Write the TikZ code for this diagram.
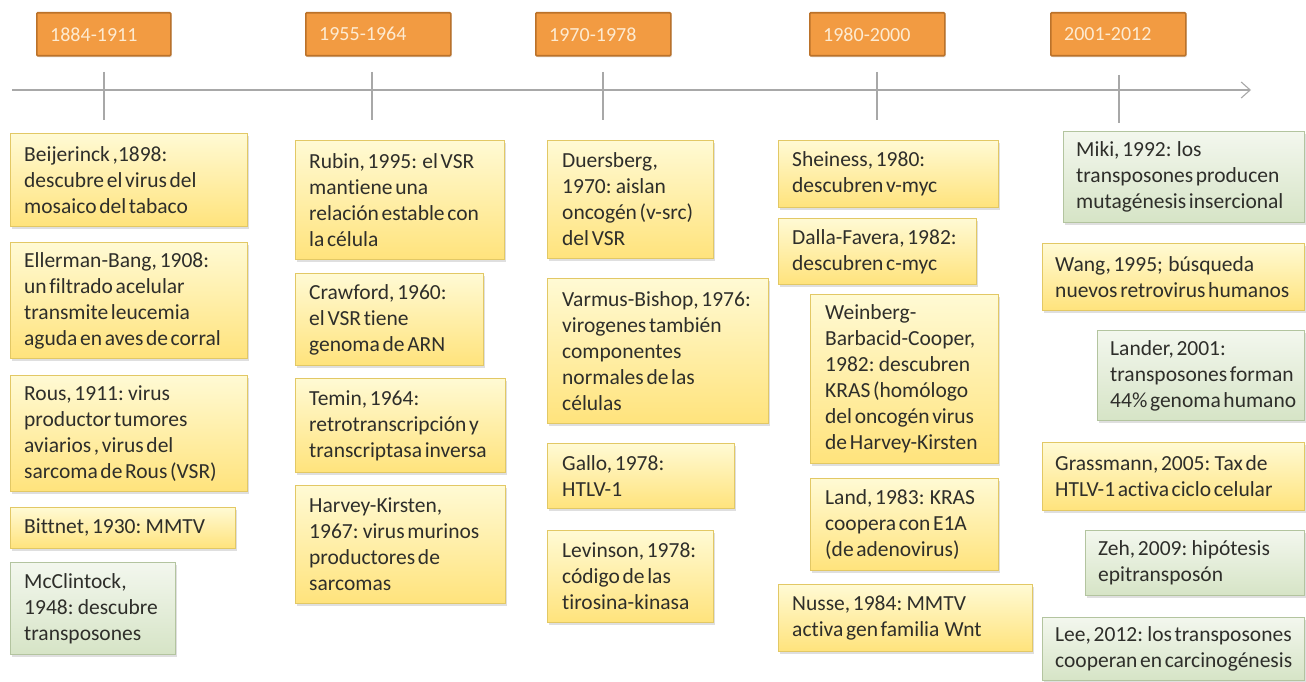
\documentclass[tikz,border=0pt]{standalone}
\usepackage{fontspec}
\setmainfont[WordSpace=0.55, Ligatures={NoCommon}]{Carlito}
\usetikzlibrary{shadows,arrows.meta}
\definecolor{ytop}{HTML}{FFFAD4}
\definecolor{ybot}{HTML}{FFE37C}
\definecolor{ybord}{HTML}{E2C865}
\definecolor{gtop}{HTML}{F3F7EE}
\definecolor{gbot}{HTML}{D6E4C6}
\definecolor{gbord}{HTML}{B3C49F}
\definecolor{hfill}{HTML}{F29B42}
\definecolor{hbord}{HTML}{BB722A}
\definecolor{htxtc}{HTML}{FDEBD2}
\definecolor{txtc}{HTML}{2E2E2A}
\definecolor{tlgray}{HTML}{A8A8A8}
\tikzset{
  tl/.style={draw=tlgray, line width=1.1pt},
  hdr/.style={draw=hbord, line width=1.6pt, fill=hfill, rounded corners=1pt,
    drop shadow={shadow xshift=1pt, shadow yshift=-1.5pt, opacity=0.2}},
  ybox/.style={draw=ybord, line width=0.8pt, top color=ytop, bottom color=ybot,
    drop shadow={shadow xshift=1.5pt, shadow yshift=-2.5pt, opacity=0.25}},
  gbox/.style={draw=gbord, line width=0.8pt, top color=gtop, bottom color=gbot,
    drop shadow={shadow xshift=1.5pt, shadow yshift=-2.5pt, opacity=0.25}},
  txt/.style={inner sep=0pt, align=left, text=txtc, font=\fontsize{21.5pt}{26pt}\selectfont},
  htxt/.style={inner sep=0pt, text=htxtc, font=\fontsize{20pt}{24pt}\selectfont},
}
\newcommand\evbox[8]{%
  \node[#2, minimum width=#5pt, minimum height=#6pt, anchor=north west, inner sep=0pt] (#1) at (#3,#4) {};
  \node[txt, anchor=west] (#1t) at ([xshift=#7pt]#1.west) {#8};}
\newcommand\hdrbox[6]{%
  \node[hdr, minimum width=#4pt, minimum height=#5pt, anchor=north west, inner sep=0pt] (#1) at (#2,#3) {};
  \node[htxt, anchor=west] (#1t) at ([xshift=14pt]#1.west) {#6};}
\begin{document}
\begin{tikzpicture}[x=1pt, y=-1pt]
\useasboundingbox[fill=white] (0,0) rectangle (1306,682);

% headers
\hdrbox{h1}{36}{12}{134}{43}{1884-1911}
\hdrbox{h2}{305}{12}{145}{43}{1955-1964}
\hdrbox{h3}{535}{12}{135}{43}{1970-1978}
\hdrbox{h4}{809}{12}{135}{43}{1980-2000}
\hdrbox{h5}{1050}{12}{135}{43}{2001-2012}

% timeline
\coordinate (tlS) at (12,90);
\coordinate (tlE) at (1251,90);
\draw[tl, -{Straight Barb[length=9pt, width=16pt, line width=1.1pt]}] (tlS) -- (tlE);
\coordinate (k1a) at (104,72);  \coordinate (k1b) at (104,120);
\coordinate (k2a) at (372,72);  \coordinate (k2b) at (372,120);
\coordinate (k3a) at (603,72);  \coordinate (k3b) at (603,120);
\coordinate (k4a) at (877,72);  \coordinate (k4b) at (877,120);
\coordinate (k5a) at (1119,75); \coordinate (k5b) at (1119,123);
\foreach \k in {1,...,5} {\draw[tl] (k\k a) -- (k\k b);}

% column 1
\evbox{beij}{ybox}{10}{133}{237}{93}{14}{Beijerinck ,1898:\\descubre el virus del\\mosaico del tabaco}
\evbox{eller}{ybox}{10}{242}{237}{116}{14}{Ellerman-Bang, 1908:\\un filtrado acelular\\transmite leucemia\\aguda en aves de corral}
\evbox{rous}{ybox}{10}{375}{237}{116}{14}{Rous, 1911: virus\\productor tumores\\aviarios , virus del\\sarcoma de Rous (VSR)}
\evbox{bitt}{ybox}{10}{507}{225}{41}{14}{Bittnet, 1930: MMTV}
\evbox{mccl}{gbox}{10}{562}{165}{92}{14}{McClintock,\\1948: descubre\\transposones}

% column 2
\evbox{rubin}{ybox}{295}{140}{209}{119}{14}{Rubin, 1995:\ \ el VSR\\mantiene una\\relación estable con\\la célula}
\evbox{craw}{ybox}{295}{273}{188}{92}{14}{Crawford, 1960:\\el VSR tiene\\genoma de ARN}
\evbox{temin}{ybox}{295}{378}{210}{94}{14}{Temin, 1964:\\retrotranscripción y\\transcriptasa inversa}
\evbox{harvey}{ybox}{295}{485}{210}{118}{14}{Harvey-Kirsten,\\1967: virus murinos\\productores de\\sarcomas}

% column 3
\evbox{duers}{ybox}{547}{140}{166}{118}{15}{Duersberg,\\1970: aislan\\oncogén (v-src)\\del VSR}
\evbox{varmus}{ybox}{547}{278}{221}{145}{15}{Varmus-Bishop, 1976:\\virogenes también\\componentes\\normales de las\\células}
\evbox{gallo}{ybox}{547}{443}{187}{65}{15}{Gallo, 1978:\\HTLV-1}
\evbox{levin}{ybox}{547}{530}{166}{92}{15}{Levinson, 1978:\\código de las\\tirosina-kinasa}

% column 4
\evbox{shein}{ybox}{778}{140}{220}{67}{14}{Sheiness, 1980:\\descubren v-myc}
\evbox{dalla}{ybox}{778}{218}{198}{66}{14}{Dalla-Favera, 1982:\\descubren c-myc}
\evbox{weinb}{ybox}{810}{294}{188}{169}{15}{Weinberg-\\Barbacid-Cooper,\\1982: descubren\\KRAS (homólogo\\del oncogén virus\\de Harvey-Kirsten}
\evbox{land}{ybox}{810}{478}{188}{92}{15}{Land, 1983:\ \ KRAS\\coopera con E1A\\(de adenovirus)}
\evbox{nusse}{ybox}{778}{584}{254}{67}{14}{Nusse, 1984: MMTV\\activa gen familia\ \ Wnt}

% column 5
\evbox{miki}{gbox}{1063}{131}{241}{91}{13}{Miki, 1992:\ \ los\\transposones producen\\mutagénesis insercional}
\evbox{wang}{ybox}{1042}{243}{262}{67}{13}{Wang, 1995;\ \ búsqueda\\nuevos retrovirus humanos}
\evbox{lander}{gbox}{1097}{330}{207}{90}{13}{Lander, 2001:\\transposones forman\\44\% genoma humano}
\evbox{grass}{ybox}{1042}{442}{262}{68}{13}{Grassmann, 2005: Tax de\\HTLV-1 activa ciclo celular}
\evbox{zeh}{gbox}{1085}{530}{219}{65}{13}{Zeh, 2009: hipótesis\\epitransposón}
\evbox{lee}{gbox}{1042}{617}{262}{63}{13}{Lee, 2012: los transposones\\cooperan en carcinogénesis}
\end{tikzpicture}
\end{document}
